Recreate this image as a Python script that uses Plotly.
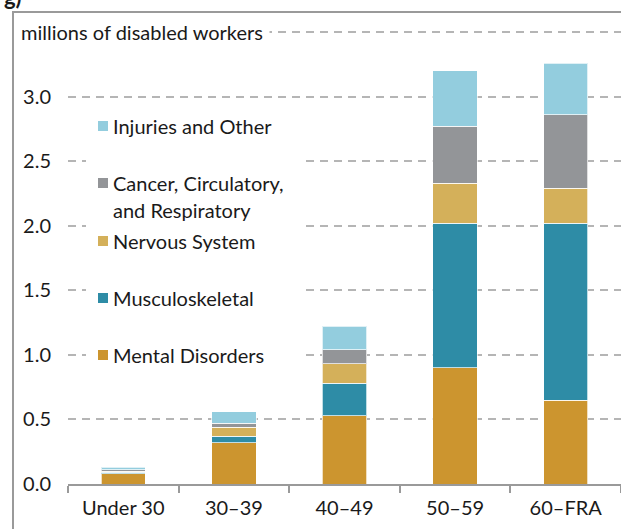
import plotly.graph_objects as go

categories = ["Under 30", "30\u201339", "40\u201349", "50\u201359", "60\u2013FRA"]
mental = [0.08, 0.32, 0.53, 0.90, 0.65]
musculoskeletal = [0.01, 0.05, 0.25, 1.12, 1.37]
nervous = [0.01, 0.07, 0.15, 0.31, 0.27]
cancer = [0.01, 0.03, 0.11, 0.44, 0.57]
injuries = [0.02, 0.09, 0.18, 0.43, 0.40]

series_names = ["Mental Disorders", "Musculoskeletal", "Nervous System",
                "Cancer, Circulatory,<br>and Respiratory", "Injuries and Other"]
series_values = [mental, musculoskeletal, nervous, cancer, injuries]
colors = ["#CC952F", "#2E8CA6", "#D4B05A", "#939598", "#93CDDE"]

W, H = 621, 529
ML, MR, MT, MB = 68, 0, 20, 45
PW, PH = W - ML - MR, H - MT - MB
YMAX = 3.593
FONT = "Lato"
FS = 20

def px_x(px):
    return (px - ML) / PW

def px_y(px):
    return (H - MB - px) / PH

fig = go.Figure()
for name, vals, col in zip(series_names, series_values, colors):
    fig.add_trace(go.Bar(
        x=categories, y=vals, name=name,
        marker=dict(color=col, line=dict(color="rgba(255,255,255,0.7)", width=1)),
        width=0.4,
    ))

shapes = []
annotations = []
# frame
shapes.append(dict(type="line", xref="paper", yref="paper",
                   x0=px_x(13), x1=px_x(13), y0=px_y(11), y1=px_y(540),
                   line=dict(color="#9a9a9a", width=2)))
shapes.append(dict(type="line", xref="paper", yref="paper",
                   x0=px_x(12), x1=px_x(630), y0=px_y(12), y1=px_y(12),
                   line=dict(color="#9a9a9a", width=2)))
# legend background box
shapes.append(dict(type="rect", xref="paper", yref="paper",
                   x0=px_x(86), x1=px_x(300), y0=px_y(108), y1=px_y(372),
                   fillcolor="white", line=dict(width=0), layer="above"))

legend_rows = [
    ("Injuries and Other", colors[4], 126),
    ("Cancer, Circulatory,", colors[3], 183),
    ("Nervous System", colors[2], 241),
    ("Musculoskeletal", colors[1], 298),
    ("Mental Disorders", colors[0], 355),
]
for text, col, ypx in legend_rows:
    shapes.append(dict(type="rect", xref="paper", yref="paper",
                       x0=px_x(98), x1=px_x(108), y0=px_y(ypx + 5), y1=px_y(ypx - 5),
                       fillcolor=col, line=dict(width=0), layer="above"))
    annotations.append(dict(xref="paper", yref="paper", x=px_x(111), y=px_y(ypx),
                            text=text, showarrow=False, xanchor="left", yanchor="middle",
                            font=dict(family=FONT, size=FS, color="#1a1a1a")))
annotations.append(dict(xref="paper", yref="paper", x=px_x(111), y=px_y(210),
                        text="and Respiratory", showarrow=False, xanchor="left", yanchor="middle",
                        font=dict(family=FONT, size=FS, color="#1a1a1a")))

annotations.append(dict(xref="paper", yref="paper", x=px_x(14), y=px_y(32),
                        text="millions of disabled workers", showarrow=False,
                        xanchor="left", yanchor="middle", bgcolor="white",
                        borderpad=6,
                        font=dict(family=FONT, size=FS, color="#1a1a1a")))
annotations.append(dict(xref="paper", yref="paper", x=px_x(2), y=px_y(-4),
                        text="<b>g)</b>", showarrow=False,
                        xanchor="left", yanchor="middle",
                        font=dict(family=FONT, size=22, color="#1a1a1a")))

fig.update_layout(
    width=W, height=H,
    margin=dict(l=ML, r=MR, t=MT, b=MB),
    barmode="stack",
    showlegend=False,
    plot_bgcolor="white", paper_bgcolor="white",
    font=dict(family=FONT, size=FS, color="#1a1a1a"),
    shapes=shapes, annotations=annotations,
)
fig.update_xaxes(
    showline=True, linecolor="#9a9a9a", linewidth=2,
    ticks="outside", tickson="boundaries", ticklen=7, tickcolor="#9a9a9a", tickwidth=2,
    showgrid=False, tickfont=dict(family=FONT, size=FS), ticklabelstandoff=5,
)
fig.update_yaxes(
    range=[0, YMAX], tickvals=[0, 0.5, 1.0, 1.5, 2.0, 2.5, 3.0, 3.5],
    ticktext=["0.0", "0.5", "1.0", "1.5", "2.0", "2.5", "3.0", ""],
    showgrid=True, gridcolor="#b5b5b5", gridwidth=1.5, griddash="8px,6px",
    zeroline=False, showline=False, ticks="", ticklabelstandoff=16,
    tickfont=dict(family=FONT, size=FS),
)

fig.write_html("out.html", config={"displayModeBar": False},
               post_script="document.body.style.margin='0px';document.body.style.overflow='hidden';")
